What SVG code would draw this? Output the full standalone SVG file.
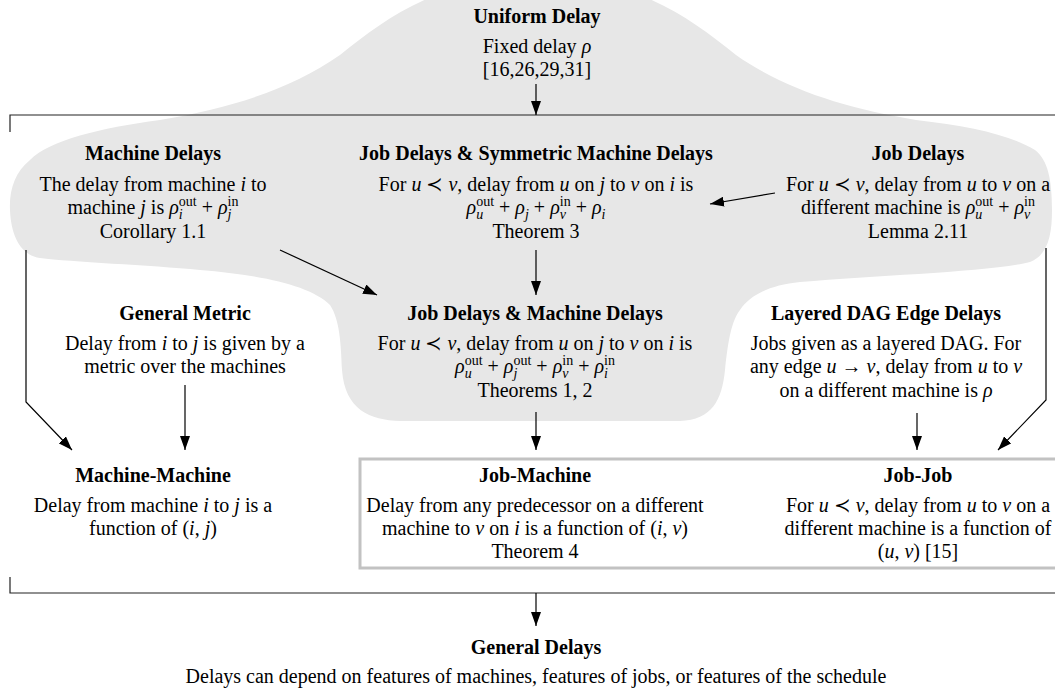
<svg xmlns="http://www.w3.org/2000/svg" width="1055" height="691" viewBox="0 0 1055 691">
  <style>
    .t { font-family: "Liberation Serif", "DejaVu Serif", serif; font-size: 20px; fill: #000; text-anchor: middle; }
    .b { font-weight: bold; }
    .m { font-style: italic; }
    .s { font-size: 14px; }
    .edge { fill: none; stroke: #000; stroke-width: 1.2; marker-end: url(#ah); }
    .bracket { fill: none; stroke: #222; stroke-width: 1.2; }
    .region { fill: #e7e7e7; stroke: none; }
    .frame { fill: #fff; stroke: #c2c2c2; stroke-width: 3; }
  </style>
  <defs>
    <marker id="ah" markerUnits="userSpaceOnUse" markerWidth="14" markerHeight="10" refX="14" refY="5" orient="auto">
      <path d="M0,0 L14,5 L0,10 Z" fill="#000"/>
    </marker>
  </defs>

  <rect width="1055" height="691" fill="#fff"/>

  <!-- shared grey background of the delay models -->
  <g id="shared-region">
    <path class="region" d="M 538,-22 C 636,-22 686,15 736,55 C 786,90 846,108 916,120 C 970,126 1010,135 1035,150 C 1048,160 1052,180 1052,210 C 1052,235 1048,255 1030,262 C 990,272 880,275 800,282 C 770,285 750,295 740,310 C 732,320 728,340 725,370 C 722,400 712,420 680,421 L 400,421 C 370,420 345,410 342,370 C 341,345 340,320 330,305 C 310,285 260,275 200,270 C 150,265 70,262 40,258 C 20,255 11,235 10,210 C 9,190 15,172 30,160 C 50,140 100,128 160,120 C 230,108 290,90 340,55 C 390,15 440,-22 538,-22 Z"/>
  </g>

  <!-- frame around the job-machine / job-job level -->
  <g id="job-level-frame">
    <rect class="frame" x="360" y="459" width="710" height="109"/>
  </g>

  <g id="uniform-delay">
    <text class="t b" x="537" y="23">Uniform Delay</text>
    <text class="t" x="537" y="53">Fixed delay <tspan class="m">ρ</tspan></text>
    <text class="t" x="537" y="76">[16,26,29,31]</text>
  </g>

  <g id="machine-delays">
    <text class="t b" x="153" y="160">Machine Delays</text>
    <text class="t" x="153" y="191">The delay from machine <tspan class="m">i</tspan> to</text>
    <text class="t" x="153" y="214">machine <tspan class="m">j</tspan> is <tspan class="m">ρ</tspan><tspan class="s m" dy="5">i</tspan><tspan class="s" dx="-3.9" dy="-13">out</tspan><tspan dy="8"> + </tspan><tspan class="m">ρ</tspan><tspan class="s m" dy="5">j</tspan><tspan class="s" dx="-3.9" dy="-13">in</tspan></text>
    <text class="t" x="153" y="238">Corollary 1.1</text>
  </g>

  <g id="job-symmetric-machine-delays">
    <text class="t b" x="536" y="160">Job Delays &amp; Symmetric Machine Delays</text>
    <text class="t" x="536" y="191">For <tspan class="m">u</tspan> ≺ <tspan class="m">v</tspan>, delay from <tspan class="m">u</tspan> on <tspan class="m">j</tspan> to <tspan class="m">v</tspan> on <tspan class="m">i</tspan> is</text>
    <text class="t" x="536" y="214"><tspan class="m">ρ</tspan><tspan class="s m" dy="5">u</tspan><tspan class="s" dx="-7" dy="-13">out</tspan><tspan dy="8"> + </tspan><tspan class="m">ρ</tspan><tspan class="s m" dy="5">j</tspan><tspan dy="-5"> + </tspan><tspan class="m">ρ</tspan><tspan class="s m" dy="5">v</tspan><tspan class="s" dx="-6.2" dy="-13">in</tspan><tspan dy="8"> + </tspan><tspan class="m">ρ</tspan><tspan class="s m" dy="5">i</tspan></text>
    <text class="t" x="536" y="238">Theorem 3</text>
  </g>

  <g id="job-delays">
    <text class="t b" x="918" y="160">Job Delays</text>
    <text class="t" x="918" y="191">For <tspan class="m">u</tspan> ≺ <tspan class="m">v</tspan>, delay from <tspan class="m">u</tspan> to <tspan class="m">v</tspan> on a</text>
    <text class="t" x="918" y="214">different machine is <tspan class="m">ρ</tspan><tspan class="s m" dy="5">u</tspan><tspan class="s" dx="-7" dy="-13">out</tspan><tspan dy="8"> + </tspan><tspan class="m">ρ</tspan><tspan class="s m" dy="5">v</tspan><tspan class="s" dx="-6.2" dy="-13">in</tspan></text>
    <text class="t" x="918" y="238">Lemma 2.11</text>
  </g>

  <g id="general-metric">
    <text class="t b" x="185" y="320">General Metric</text>
    <text class="t" x="185" y="350">Delay from <tspan class="m">i</tspan> to <tspan class="m">j</tspan> is given by a</text>
    <text class="t" x="185" y="373">metric over the machines</text>
  </g>

  <g id="job-machine-delays">
    <text class="t b" x="535" y="320">Job Delays &amp; Machine Delays</text>
    <text class="t" x="535" y="350">For <tspan class="m">u</tspan> ≺ <tspan class="m">v</tspan>, delay from <tspan class="m">u</tspan> on <tspan class="m">j</tspan> to <tspan class="m">v</tspan> on <tspan class="m">i</tspan> is</text>
    <text class="t" x="535" y="373"><tspan class="m">ρ</tspan><tspan class="s m" dy="5">u</tspan><tspan class="s" dx="-7" dy="-13">out</tspan><tspan dy="8"> + </tspan><tspan class="m">ρ</tspan><tspan class="s m" dy="5">j</tspan><tspan class="s" dx="-3.9" dy="-13">out</tspan><tspan dy="8"> + </tspan><tspan class="m">ρ</tspan><tspan class="s m" dy="5">v</tspan><tspan class="s" dx="-6.2" dy="-13">in</tspan><tspan dy="8"> + </tspan><tspan class="m">ρ</tspan><tspan class="s m" dy="5">i</tspan><tspan class="s" dx="-3.9" dy="-13">in</tspan></text>
    <text class="t" x="535" y="397">Theorems 1, 2</text>
  </g>

  <g id="layered-dag-edge-delays">
    <text class="t b" x="886" y="320">Layered DAG Edge Delays</text>
    <text class="t" x="886" y="350">Jobs given as a layered DAG. For</text>
    <text class="t" x="886" y="373">any edge <tspan class="m">u</tspan> → <tspan class="m">v</tspan>, delay from <tspan class="m">u</tspan> to <tspan class="m">v</tspan></text>
    <text class="t" x="886" y="397">on a different machine is <tspan class="m">ρ</tspan></text>
  </g>

  <g id="machine-machine">
    <text class="t b" x="153" y="482">Machine-Machine</text>
    <text class="t" x="153" y="512">Delay from machine <tspan class="m">i</tspan> to <tspan class="m">j</tspan> is a</text>
    <text class="t" x="153" y="535">function of (<tspan class="m">i</tspan>, <tspan class="m">j</tspan>)</text>
  </g>

  <g id="job-machine">
    <text class="t b" x="535" y="482">Job-Machine</text>
    <text class="t" x="535" y="512">Delay from any predecessor on a different</text>
    <text class="t" x="535" y="535">machine to <tspan class="m">v</tspan> on <tspan class="m">i</tspan> is a function of (<tspan class="m">i</tspan>, <tspan class="m">v</tspan>)</text>
    <text class="t" x="535" y="558">Theorem 4</text>
  </g>

  <g id="job-job">
    <text class="t b" x="918" y="482">Job-Job</text>
    <text class="t" x="918" y="512">For <tspan class="m">u</tspan> ≺ <tspan class="m">v</tspan>, delay from <tspan class="m">u</tspan> to <tspan class="m">v</tspan> on a</text>
    <text class="t" x="918" y="535">different machine is a function of</text>
    <text class="t" x="918" y="558">(<tspan class="m">u</tspan>, <tspan class="m">v</tspan>) [15]</text>
  </g>

  <g id="general-delays">
    <text class="t b" x="536" y="654">General Delays</text>
    <text class="t" x="536" y="683">Delays can depend on features of machines, features of jobs, or features of the schedule</text>
  </g>

  <!-- brackets grouping the intermediate models -->
  <g id="brackets">
    <polyline class="bracket" points="10,132 10,115 1055,115"/>
    <polyline class="bracket" points="10,577 10,593 1055,593"/>
  </g>

  <g id="connectors">
    <path class="edge" d="M536,84 L536,115"/>
    <path class="edge" d="M775,193 L710,204"/>
    <path class="edge" d="M280,250 L377,295"/>
    <path class="edge" d="M536,250 L536,295"/>
    <path class="edge" d="M26,250 L26,402 L72,450"/>
    <path class="edge" d="M185,385 L185,450"/>
    <path class="edge" d="M536,412 L536,450"/>
    <path class="edge" d="M917,413 L917,450"/>
    <path class="edge" d="M1046,248 L1046,400 L998,450"/>
    <path class="edge" d="M536,593 L536,626"/>
  </g>
</svg>
